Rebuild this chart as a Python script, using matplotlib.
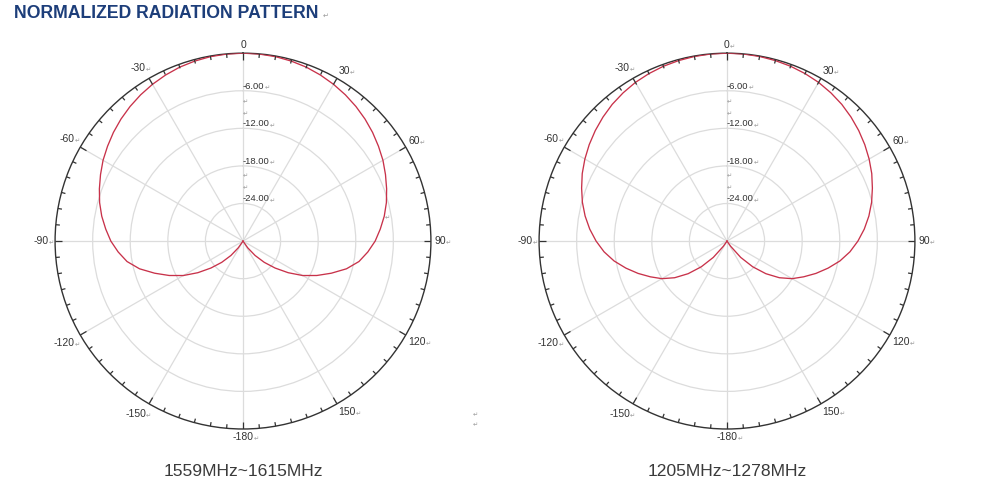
import numpy as np
import matplotlib
matplotlib.use("Agg")
import matplotlib.pyplot as plt

# Angles (deg) of the half pattern, mirrored for the other side
angles_half = [0, 5, 10, 15, 20, 25, 30, 35, 40, 45, 50, 55, 60, 65, 70, 75, 80, 85, 90,
               95, 100, 105, 110, 115, 120, 125, 130, 135, 140, 145, 150, 155, 160, 165,
               170, 175, 180]

gain_1559 = [0.0, -0.03, -0.1, -0.25, -0.45, -0.75, -1.1, -1.5, -1.95, -2.45, -3.0, -3.6,
             -4.2, -4.9, -5.6, -6.3, -7.1, -8.0, -8.9, -10.0, -11.2, -12.9, -15.0, -17.0,
             -19.0, -21.2, -23.3, -25.2, -27.0, -28.7, -30, -30, -30, -30, -30, -30, -30]

gain_1205 = [0.0, -0.02, -0.07, -0.17, -0.3, -0.5, -0.75, -1.1, -1.5, -2.0, -2.55, -3.15,
             -3.8, -4.5, -5.3, -6.1, -7.0, -8.0, -9.1, -10.3, -11.7, -13.3, -14.9, -16.5,
             -18.0, -19.8, -21.9, -24.2, -26.6, -29.0, -30, -30, -30, -30, -30, -30, -30]

angle_labels = [0, 30, 60, 90, 120, 150, -180, -150, -120, -90, -60, -30]
ring_levels = [-6, -12, -18, -24]
captions = ["1559MHz~1615MHz", "1205MHz~1278MHz"]

RED = "#c8324a"
DARK = "#333333"
GRID = "#dcdcdc"
MARK = "#9a9a9a"


def full_pattern(gains):
    th = [-a for a in angles_half[::-1]] + angles_half[1:]
    g = gains[::-1] + gains[1:]
    return np.deg2rad(th), np.array(g)


def small_mark(ax, txt):
    ax.annotate("\u21b5", xy=(1.0, 0.05), xycoords=txt, fontsize=4.5, color=MARK,
                ha="left", va="bottom", annotation_clip=False)


def draw_pattern(ax, gains, zero_mark):
    ax.set_theta_zero_location("N")
    ax.set_theta_direction(-1)
    ax.set_ylim(-30, 0)

    th, g = full_pattern(gains)
    ax.plot(th, g, color=RED, lw=0.95, zorder=4)

    ax.set_xticks(np.deg2rad(np.arange(0, 360, 30)))
    ax.set_xticklabels([])
    ax.set_yticks(ring_levels)
    ax.set_yticklabels([])
    ax.tick_params(axis="x", length=0)
    ax.grid(True, color=GRID, lw=0.9)
    ax.spines["polar"].set_color(DARK)
    ax.spines["polar"].set_linewidth(1.0)

    # tick marks on the outer ring, pointing inward
    for a in range(0, 360, 5):
        depth = 1.15 if a % 30 == 0 else 0.65
        ax.plot([np.deg2rad(a)] * 2, [0, -depth], color=DARK, lw=0.9, zorder=5,
                solid_capstyle="butt")

    # angle labels outside the ring
    for a in angle_labels:
        s, c = np.sin(np.deg2rad(a)), np.cos(np.deg2rad(a))
        ha = "center" if abs(s) < 0.1 else ("left" if s > 0 else "right")
        va = "center" if abs(c) < 0.1 else ("bottom" if c > 0 else "top")
        off = 0.5 if ha != "right" else 1.0
        t = ax.text(np.deg2rad(a), off, str(a), ha=ha, va=va, fontsize=7.5,
                    color=DARK, family="Liberation Sans", clip_on=False)
        if a != 0 or zero_mark:
            small_mark(ax, t)

    # ring labels on the vertical axis
    for v in ring_levels:
        t = ax.text(0, v, "%.2f" % v, ha="left", va="bottom", fontsize=6.8,
                    color=DARK, family="Liberation Sans")
        small_mark(ax, t)
    for v in [-7.7, -9.6, -19.6, -21.5]:
        ax.text(0, v, "\u21b5", ha="left", va="center", fontsize=4.5, color=MARK)


fig = plt.figure(figsize=(10, 4.9), dpi=100)

ax1 = fig.add_axes([0.055, 0.1245, 0.376, 0.767], projection="polar")
draw_pattern(ax1, gain_1559, False)
ax1.text(np.deg2rad(81), -6.6, "\u21b5", fontsize=4.5, color=MARK, ha="center", va="center")

ax2 = fig.add_axes([0.539, 0.1245, 0.376, 0.767], projection="polar")
draw_pattern(ax2, gain_1205, True)

fig.text(0.243, 1 - 471 / 490, captions[0], ha="center", va="center", fontsize=12.6,
         color="#3a3a3a", family="Liberation Sans")
fig.text(0.727, 1 - 471 / 490, captions[1], ha="center", va="center", fontsize=12.6,
         color="#3a3a3a", family="Liberation Sans")

fig.text(0.014, 1 - 14 / 490, "NORMALIZED RADIATION PATTERN", ha="left", va="center",
         fontsize=12.7, fontweight="bold", color="#1d3e7a", family="Liberation Sans")
fig.text(0.323, 1 - 16 / 490, "\u21b5", fontsize=5, color=MARK, ha="left", va="center")
fig.text(0.475, 1 - 415 / 490, "\u21b5", fontsize=4.5, color=MARK, ha="center", va="center")
fig.text(0.475, 1 - 425 / 490, "\u21b5", fontsize=4.5, color=MARK, ha="center", va="center")

fig.savefig("out.png", dpi=100, facecolor="white")
